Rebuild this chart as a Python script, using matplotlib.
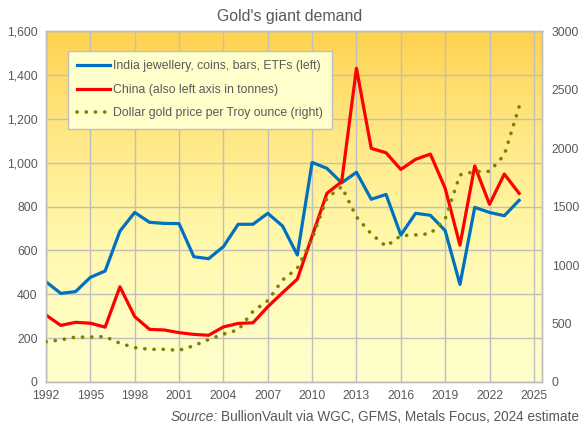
import numpy as np
import matplotlib
matplotlib.use('Agg')
import matplotlib.pyplot as plt
from matplotlib.colors import LinearSegmentedColormap
from matplotlib.ticker import FuncFormatter

plt.rcParams['font.family'] = ['Liberation Sans', 'DejaVu Sans']

years = list(range(1992, 2025))

# tonnes, left axis
india = [457, 404, 412, 477, 506, 688, 773, 728, 723, 722, 571, 562, 617, 719, 719,
         769, 711, 579, 1001, 974, 908, 956, 833, 855, 670, 769, 760, 690, 445, 796,
         773, 758, 828]
china = [305, 258, 272, 268, 250, 434, 298, 240, 237, 225, 217, 213, 251, 267, 270,
         343, 407, 469, 665, 860, 913, 1430, 1065, 1045, 969, 1015, 1039, 883, 624, 985,
         810, 948, 860]

# USD per ounce, right axis
gold_price = [344, 360, 384, 384, 388, 331, 294, 279, 279, 271, 310, 363, 409, 445, 604,
              695, 872, 972, 1225, 1572, 1669, 1411, 1266, 1160, 1251, 1257, 1268, 1393,
              1770, 1799, 1800, 1941, 2353]

text_col = '#595959'
grid_col = '#BFBFBF'

fig = plt.figure(figsize=(5.83, 4.28), dpi=100)
ax = fig.add_axes([0.0789, 0.1075, 0.8508, 0.820])

# gradient background of the plot area
grad = LinearSegmentedColormap.from_list('bg', ['#FFFFCC', '#FFF7A8', '#FFE680', '#FFD24F'])
vals = np.linspace(0, 1, 256).reshape(-1, 1) ** 1.3
ax.imshow(vals, aspect='auto', cmap=grad, origin='lower',
          extent=[0, 1, 0, 1], transform=ax.transAxes, zorder=0)

l1, = ax.plot(years, india, color='#0070C0', lw=2.3, zorder=3,
              label='India jewellery, coins, bars, ETFs (left)')
l2, = ax.plot(years, china, color='#FF0000', lw=2.3, zorder=3,
              label='China (also left axis in tonnes)')

ax.set_xlim(1992, 2025.55)
ax.set_ylim(0, 1600)
ax.set_xticks(range(1992, 2026, 3))
ax.set_yticks(range(0, 1601, 200))
ax.yaxis.set_major_formatter(FuncFormatter(lambda v, p: f'{int(v):,}'))
ax.grid(True, color=grid_col, lw=1, zorder=1)
ax.set_axisbelow(True)
ax.tick_params(length=0, labelsize=8.7, labelcolor=text_col, pad=6)

ax2 = ax.twinx()
l3, = ax2.plot(years, gold_price, color='#7F7F00', lw=2.6,
               linestyle=(0, (0.05, 2.5)), dash_capstyle='round', zorder=3,
               label='Dollar gold price per Troy ounce (right)')
ax2.set_ylim(0, 3000)
ax2.set_yticks(range(0, 3001, 500))
ax2.tick_params(length=0, labelsize=8.7, labelcolor=text_col, pad=7)

for a in (ax, ax2):
    for s in a.spines.values():
        s.set_color(grid_col)
        s.set_linewidth(1)

leg = ax2.legend(handles=[l1, l2, l3], loc='upper left', bbox_to_anchor=(0.044, 0.943),
                 fontsize=8.8, frameon=True, fancybox=False, handlelength=2.7,
                 handletextpad=0.25, labelspacing=0.95, borderpad=0.75, borderaxespad=0)
leg.get_frame().set_facecolor('#FFFFCC')
leg.get_frame().set_edgecolor(grid_col)
leg.get_frame().set_alpha(1)
for t in leg.get_texts():
    t.set_color(text_col)

fig.text(0.497, 0.962, "Gold's giant demand", ha='center', va='center',
         fontsize=11.4, color=text_col)
src = fig.text(0.993, 0.025, 'BullionVault via WGC, GFMS, Metals Focus, 2024 estimate',
               ha='right', va='center', fontsize=9.8, color=text_col)
fig.canvas.draw()
bb = src.get_window_extent()
fig.text(bb.x0 / fig.bbox.width - 0.006, 0.025, 'Source:', ha='right', va='center',
         fontsize=9.8, color=text_col, style='italic')

fig.savefig('out.png', dpi=100, facecolor='white')
